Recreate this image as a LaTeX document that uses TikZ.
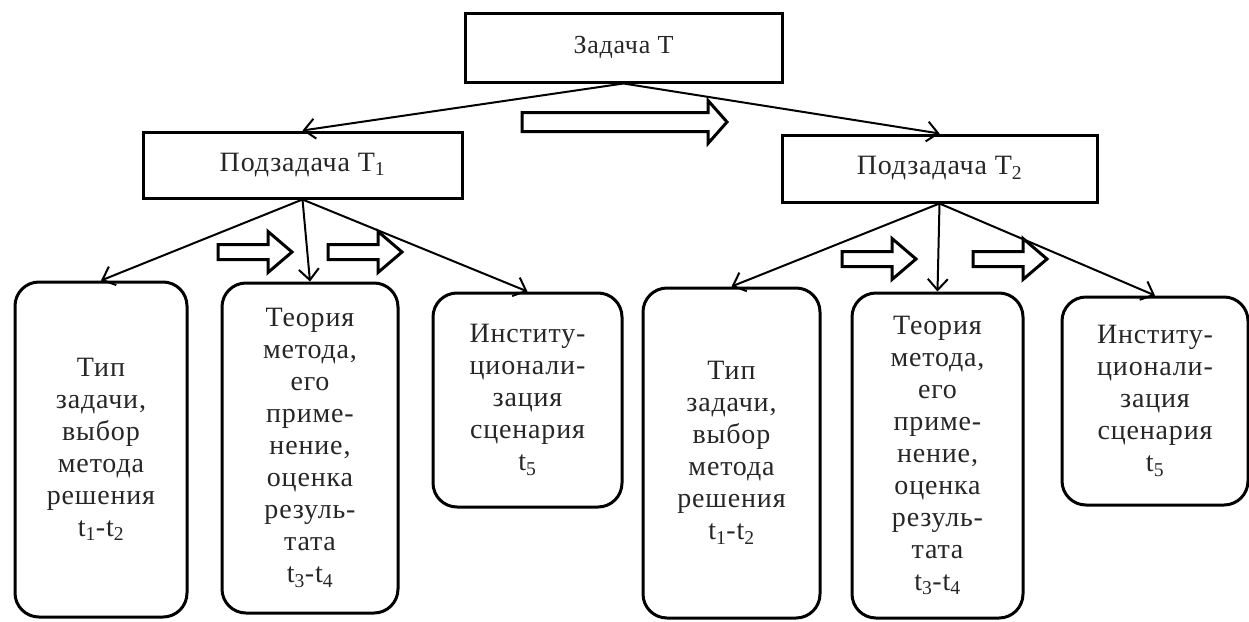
\documentclass[tikz,border=0pt]{standalone}
\usepackage{fontspec}
\setmainfont{Liberation Serif}
\newfontfamily\widefont[LetterSpace=3]{Liberation Serif}
\usetikzlibrary{arrows.meta}
\begin{document}
\begin{tikzpicture}[x=1pt,y=-1pt,
  box/.style={draw, line width=3pt, rectangle, align=center, inner sep=0pt, text=black!85},
  rbox/.style={draw, line width=3pt, rounded corners=24pt, align=center, inner sep=0pt,
    font=\widefont\fontsize{28}{32}\selectfont, text=black!85},
  link/.style={line width=2pt, -{Straight Barb[length=11pt,width=20pt,line width=2pt]}},
  blk/.style={line width=3pt, line join=miter},
  smallarr/.pic={\draw[blk] (0,-7.5)--(50,-7.5)--(50,-20.5)--(74,0)--(50,20.5)--(50,7.5)--(0,7.5)--cycle;},
  bigarr/.pic={\draw[blk] (0,-9.5)--(186,-9.5)--(186,-21.5)--(205,0)--(186,21.5)--(186,9.5)--(0,9.5)--cycle;}
]
\useasboundingbox (0,0) rectangle (1249,621);

% top and sub tasks
\node[box, minimum width=317pt, minimum height=69pt, font=\widefont\fontsize{26}{30}\selectfont] (top) at (623.5,47.5) {Задача T};
\node[box, minimum width=319pt, minimum height=66pt, font=\widefont\fontsize{28}{30}\selectfont] (s1) at (302.5,165) {Подзадача T\textsubscript{1}};
\node[box, minimum width=315pt, minimum height=67pt, font=\widefont\fontsize{28}{30}\selectfont] (s2) at (939.5,168.5) {Подзадача T\textsubscript{2}};

% leaf boxes
\node[rbox, minimum width=172pt, minimum height=335pt] (b1) at (101,449.5)
  {Тип\\задачи,\\выбор\\метода\\решения\\t\textsubscript{1}-t\textsubscript{2}};
\node[rbox, minimum width=176pt, minimum height=330pt] (b2) at (310,448)
  {Теория\\метода,\\его\\приме-\\нение,\\оценка\\резуль-\\тата\\t\textsubscript{3}-t\textsubscript{4}};
\node[rbox, minimum width=189pt, minimum height=214pt] (b3) at (527.5,400)
  {Институ-\\ционали-\\зация\\сценария\\t\textsubscript{5}};
\node[rbox, minimum width=177pt, minimum height=330pt] (b4) at (731.5,453)
  {Тип\\задачи,\\выбор\\метода\\решения\\t\textsubscript{1}-t\textsubscript{2}};
\node[rbox, minimum width=171pt, minimum height=325pt] (b5) at (937.5,455.5)
  {Теория\\метода,\\его\\приме-\\нение,\\оценка\\резуль-\\тата\\t\textsubscript{3}-t\textsubscript{4}};
\node[rbox, minimum width=186pt, minimum height=208pt] (b6) at (1155,401)
  {Институ-\\ционали-\\зация\\сценария\\t\textsubscript{5}};

% connectors
\draw[link] (top.south) -- (s1.north);
\draw[link] (top.south) -- (s2.north);
\draw[link] (s1.south) -- (b1.north);
\draw[link] (s1.south) -- (b2.north);
\draw[link] (s1.south) -- (b3.north);
\draw[link] (s2.south) -- (b4.north);
\draw[link] (s2.south) -- (b5.north);
\draw[link] (s2.south) -- (b6.north);

% block arrows
\pic at (522,122) {bigarr};
\pic at (218,252) {smallarr};
\pic at (328,252) {smallarr};
\pic at (842,259) {smallarr};
\pic at (973,259) {smallarr};
\end{tikzpicture}
\end{document}
